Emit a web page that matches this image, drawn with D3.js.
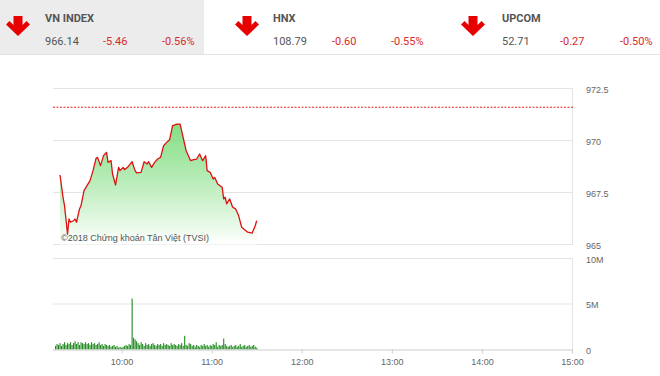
<!DOCTYPE html>
<html><head><meta charset="utf-8">
<script src="https://cdn.jsdelivr.net/npm/d3@7"></script>
<style>
html,body{margin:0;padding:0;background:#fff;}
svg{display:block;font-family:Roboto,"Open Sans",Arial,sans-serif;}
</style></head>
<body><svg id="c" width="660" height="376"></svg>
<script>
// ---- data ----
const indexNames = ["VN INDEX", "HNX", "UPCOM"];
const indexValues = ["966.14", "108.79", "52.71"];
const indexChanges = ["-5.46", "-0.60", "-0.27"];
const indexPercents = ["-0.56%", "-0.55%", "-0.50%"];

const priceTimes = ["09:19","09:21","09:22","09:24","09:25","09:26","09:28","09:29","09:30","09:32",
"09:33","09:35","09:37","09:39","09:41","09:43","09:44","09:46","09:48","09:50",
"09:51","09:53","09:54","09:56","09:58","09:59","10:01","10:02","10:04","10:07",
"10:09","10:10","10:13","10:15","10:17","10:18","10:20","10:22","10:24","10:26",
"10:28","10:30","10:32","10:34","10:37","10:39","10:41","10:43","10:46","10:48",
"10:50","10:52","10:54","10:56","10:57","10:59","11:01","11:02","11:04","11:07",
"11:08","11:09","11:10","11:12","11:14","11:16","11:18","11:20","11:22","11:24",
"11:27","11:29","11:30"];
const priceValues = [968.34,967.27,966.87,965.50,966.23,966.07,966.14,966.23,966.07,966.71,
966.87,967.59,967.83,968.07,968.55,969.14,969.19,968.79,969.27,969.43,
968.95,969.03,968.39,967.86,968.71,968.55,968.71,968.60,968.71,968.98,
968.55,968.44,968.47,968.98,968.87,968.98,968.71,968.95,969.11,969.19,
969.75,969.91,970.04,970.71,970.79,970.79,970.15,969.51,969.03,969.08,
969.11,969.35,969.03,969.27,968.55,968.47,968.15,968.23,967.91,967.75,
967.19,967.27,966.95,967.19,966.79,966.71,966.38,965.83,965.71,965.59,
965.55,965.90,966.14];
const referencePrice = 971.60;

const volumeStart = "09:16";
const volumeValues = [ // millions of shares, one bar per minute 09:16 .. 11:30
0.4,0.6,0.5,0.7,0.4,0.6,0.8,0.5,0.7,0.6,
0.8,0.5,0.7,0.9,0.6,0.8,0.5,0.8,0.7,0.6,
0.8,0.6,0.7,0.5,0.8,0.6,0.7,0.5,0.6,0.8,
0.5,0.6,0.4,0.6,0.5,0.4,0.5,0.3,0.4,0.5,
0.3,0.4,0.2,0.3,0.2,0.3,0.4,0.5,0.4,0.6,
0.5,5.6,1.3,1.1,0.9,0.7,0.5,0.8,0.6,0.4,
0.7,0.5,0.6,0.4,0.6,0.7,0.5,0.4,0.6,0.5,
0.6,0.4,0.7,0.5,0.6,0.5,0.4,0.7,0.5,0.6,
0.5,0.4,0.6,0.5,0.7,0.4,1.5,0.5,0.4,0.7,
0.6,0.4,0.5,0.3,0.5,0.4,0.3,0.5,0.4,0.6,
0.4,0.5,0.3,0.5,0.4,0.6,0.5,0.8,0.3,0.5,
0.4,0.5,1.2,0.6,0.4,0.3,0.4,0.5,0.3,0.4,
0.5,0.3,0.4,0.6,0.3,0.4,0.5,0.3,0.4,0.5,
0.3,0.4,0.5,0.3,0.2];

const priceTicks = [965, 967.5, 970, 972.5];
const volumeTicks = [0, 5, 10];
const volumeTickLabels = ["0", "5M", "10M"];
const timeTicks = ["10:00","11:00","12:00","13:00","14:00","15:00"];
const sessionStart = "09:15", sessionEnd = "15:00";
const watermark = "©2018 Chứng khoán Tân Việt (TVSI)";

// ---- helpers ----
const toMin = s => { const [h, m] = s.split(":").map(Number); return h * 60 + m; };

const svg = d3.select("#c");

// ---- header ----
svg.append("rect").attr("x", 0).attr("y", 0).attr("width", 204).attr("height", 54).attr("fill", "#ececec");
svg.append("line").attr("x1", 0).attr("x2", 660).attr("y1", 54.5).attr("y2", 54.5).attr("stroke", "#e2e2e2");

const headerX = [45, 273, 502];
const arrowX = [18, 247, 473];
const changeX = [103, 332, 560];
const pctX = [162, 391, 620];
const arrow = "M-4.5,-10 L4.5,-10 L4.5,-1 L8.5,-5 L12,-1.5 L0,10 L-12,-1.5 L-8.5,-5 L-4.5,-1 Z";
indexNames.forEach((n, i) => {
  const g = svg.append("g");
  g.append("path").attr("d", arrow).attr("transform", `translate(${arrowX[i]},${26})`).attr("fill", "#e60000");
  g.append("text").attr("x", headerX[i]).attr("y", 22).attr("font-size", 11).attr("font-weight", "bold").attr("fill", "#555").text(n);
  g.append("text").attr("x", headerX[i]).attr("y", 45).attr("font-size", 11).attr("fill", "#555").text(indexValues[i]);
  g.append("text").attr("x", changeX[i]).attr("y", 45).attr("font-size", 11).attr("fill", "#d62b2b").text(indexChanges[i]);
  g.append("text").attr("x", pctX[i]).attr("y", 45).attr("font-size", 11).attr("fill", "#d62b2b").text(indexPercents[i]);
});

// ---- scales ----
const x = d3.scaleLinear().domain([toMin(sessionStart), toMin(sessionEnd)]).range([54, 572]);
const left = 53, right = 573;
const y = d3.scaleLinear().domain([965, 972.5]).range([244.5, 88.5]);
const yv = d3.scaleLinear().domain([0, 10]).range([349.5, 258.5]);

// ---- price panel ----
const defs = svg.append("defs");
const grad = defs.append("linearGradient").attr("id", "g").attr("x1", 0).attr("x2", 0)
  .attr("gradientUnits", "userSpaceOnUse").attr("y1", y(970.8)).attr("y2", y(965));
grad.append("stop").attr("offset", 0).attr("stop-color", "#6fd96f").attr("stop-opacity", 0.85);
grad.append("stop").attr("offset", 1).attr("stop-color", "#ffffff").attr("stop-opacity", 1);

priceTicks.forEach(t => {
  svg.append("line").attr("x1", left).attr("x2", right).attr("y1", y(t)).attr("y2", y(t)).attr("stroke", "#e4e4e4");
});
svg.append("line").attr("x1", right - 0.5).attr("x2", right - 0.5).attr("y1", y(972.5)).attr("y2", y(965)).attr("stroke", "#e4e4e4");

const pts = priceTimes.map((t, i) => [toMin(t), priceValues[i]]);
svg.append("path").datum(pts)
  .attr("d", d3.area().x(d => x(d[0])).y0(y(965)).y1(d => y(d[1])))
  .attr("fill", "url(#g)");
svg.append("path").datum(pts)
  .attr("d", d3.line().x(d => x(d[0])).y(d => y(d[1])))
  .attr("fill", "none").attr("stroke", "#dd1111").attr("stroke-width", 1.3).attr("stroke-linejoin", "round");

svg.append("line").attr("x1", left).attr("x2", right).attr("y1", y(referencePrice)).attr("y2", y(referencePrice))
  .attr("stroke", "#e02020").attr("stroke-width", 1).attr("stroke-dasharray", "2,1.5");

svg.append("text").attr("x", 61).attr("y", 241).attr("font-size", 9).attr("fill", "#555")
  .attr("font-family", "Arial, 'Liberation Sans', sans-serif").text(watermark);

const yAxis = d3.axisRight(y).tickValues(priceTicks).tickSize(0).tickPadding(0).tickFormat(d => d3.format("")(d));
svg.append("g").attr("transform", `translate(586,1)`).call(yAxis)
  .call(g => g.select(".domain").remove())
  .call(g => g.selectAll("text").attr("fill", "#666").attr("font-size", 9).attr("font-family", "Arial, 'Liberation Sans', sans-serif"));

// ---- volume panel ----
volumeTicks.forEach(t => {
  if (t === 0) return;
  svg.append("line").attr("x1", left).attr("x2", right).attr("y1", yv(t)).attr("y2", yv(t)).attr("stroke", "#e4e4e4");
});
svg.append("line").attr("x1", right - 0.5).attr("x2", right - 0.5).attr("y1", yv(10)).attr("y2", yv(0)).attr("stroke", "#e4e4e4");

const v0 = toMin(volumeStart);
svg.append("g").selectAll("rect").data(volumeValues).join("rect")
  .attr("x", (d, i) => x(v0 + i) - 0.5).attr("width", 1.1)
  .attr("y", d => yv(d)).attr("height", d => yv(0) - yv(d))
  .attr("fill", "#238a23");

const vAxis = d3.axisRight(yv).tickValues(volumeTicks).tickSize(0).tickPadding(0)
  .tickFormat((d, i) => volumeTickLabels[i]);
svg.append("g").attr("transform", `translate(586,1)`).call(vAxis)
  .call(g => g.select(".domain").remove())
  .call(g => g.selectAll("text").attr("fill", "#666").attr("font-size", 9).attr("font-family", "Arial, 'Liberation Sans', sans-serif"));

// ---- time axis ----
const xAxis = d3.axisBottom(x).tickValues(timeTicks.map(toMin)).tickSize(4).tickPadding(5)
  .tickFormat((d, i) => timeTicks[i]);
svg.append("g").attr("transform", `translate(0,${yv(0)})`).call(xAxis)
  .call(g => g.select(".domain").attr("d", `M${left},0.5H${right}`).attr("stroke", "#ccc"))
  .call(g => g.selectAll(".tick line").attr("stroke", "#ccc"))
  .call(g => g.selectAll("text").attr("fill", "#666").attr("font-size", 9).attr("font-family", "Arial, 'Liberation Sans', sans-serif"));
</script></body></html>
